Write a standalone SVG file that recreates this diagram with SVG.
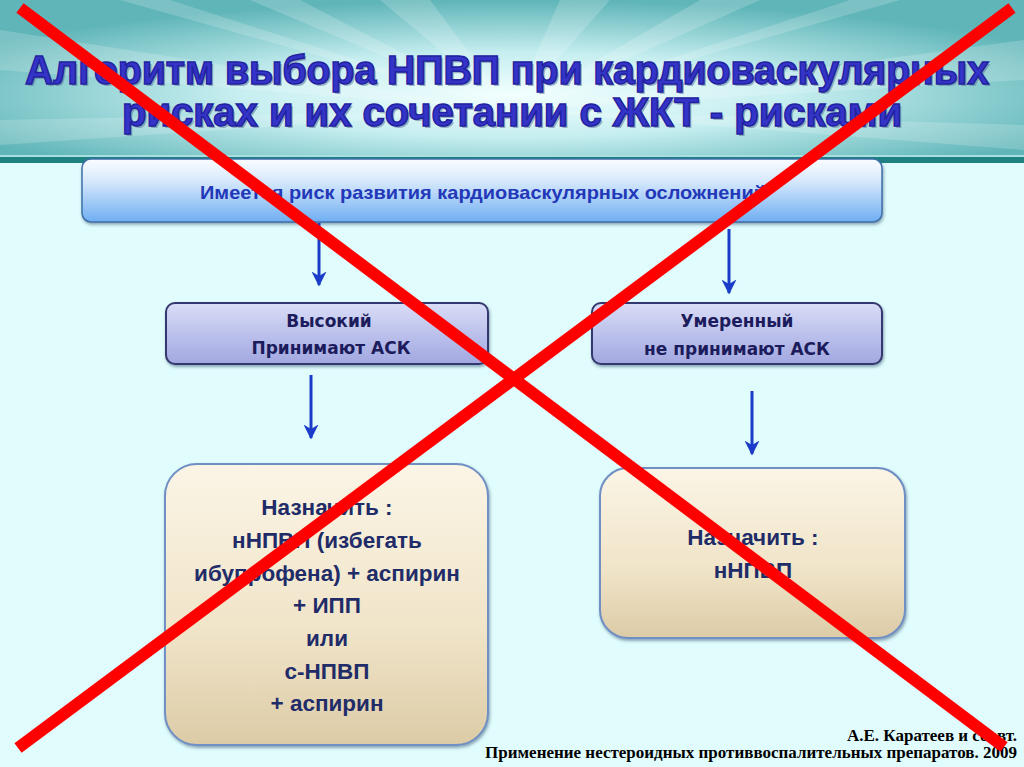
<svg xmlns="http://www.w3.org/2000/svg" width="1024" height="767" viewBox="0 0 1024 767">
  <defs>
    <radialGradient id="hdr" cx="0.5" cy="0.6" r="0.6" fx="0.5" fy="0.6">
      <stop offset="0" stop-color="#F2FFFF"/>
      <stop offset="0.45" stop-color="#C6EEF0"/>
      <stop offset="1" stop-color="#5FB5B8"/>
    </radialGradient>
    <linearGradient id="topbox" x1="0" y1="0" x2="0" y2="1">
      <stop offset="0" stop-color="#FBFDFF"/>
      <stop offset="0.35" stop-color="#D6E8FC"/>
      <stop offset="1" stop-color="#6FAEF2"/>
    </linearGradient>
    <linearGradient id="midbox" x1="0" y1="0" x2="0" y2="1">
      <stop offset="0" stop-color="#DADDF6"/>
      <stop offset="0.5" stop-color="#BCC1EC"/>
      <stop offset="1" stop-color="#A2A8E0"/>
    </linearGradient>
    <linearGradient id="botbox" x1="0" y1="0" x2="0" y2="1">
      <stop offset="0" stop-color="#FBF5E6"/>
      <stop offset="0.6" stop-color="#F0E4C8"/>
      <stop offset="1" stop-color="#DCCBA6"/>
    </linearGradient>
    <marker id="arr" viewBox="0 0 10 10" refX="9" refY="5" markerWidth="5" markerHeight="5" orient="auto">
      <path d="M0,0 L10,5 L0,10 L3,5 z" fill="#1A3CC8"/>
    </marker>
    <filter id="sh" x="-5%" y="-5%" width="110%" height="115%">
      <feDropShadow dx="1" dy="2" stdDeviation="1.5" flood-color="#305070" flood-opacity="0.5"/>
    </filter>
  </defs>
  <style>
    .title { font-family: "Liberation Sans", Arial, sans-serif; font-weight: bold; font-size: 40px; fill: #3434C8; stroke: #2222A0; stroke-width: 1.5; text-anchor: middle; }
    .tshadow { font-family: "Liberation Sans", Arial, sans-serif; font-weight: bold; font-size: 40px; fill: #5A6E90; opacity: 0.5; text-anchor: middle; }
    .t1 { font-family: "Liberation Sans", Arial, sans-serif; font-weight: bold; font-size: 19px; fill: #2238B8; text-anchor: middle; }
    .t2 { font-family: "DejaVu Sans", "Liberation Sans", sans-serif; font-weight: bold; font-size: 17px; fill: #1C1C5C; text-anchor: middle; }
    .t3 { font-family: "Liberation Sans", Arial, sans-serif; font-weight: bold; font-size: 22.5px; fill: #1F2C68; text-anchor: middle; }
    .cite { font-family: "Liberation Serif", "Times New Roman", serif; font-weight: bold; font-size: 17px; fill: #000; text-anchor: end; }
    .conn { stroke: #1A3CC8; stroke-width: 3; fill: none; marker-end: url(#arr); }
    .cross { stroke: #FF0000; stroke-width: 12; stroke-linecap: butt; }
  </style>

  <!-- background -->
  <rect x="0" y="0" width="1024" height="767" fill="#E0FCFC"/>

  <!-- header band -->
  <g id="header">
    <rect x="0" y="0" width="1024" height="158" fill="url(#hdr)"/>
    <g fill="#FFFFFF" opacity="0.18">
      <polygon points="512,110 380,0 430,0"/>
      <polygon points="512,110 560,0 610,0"/>
      <polygon points="512,110 250,0 300,0"/>
      <polygon points="512,110 700,0 760,0"/>
      <polygon points="512,110 0,30 0,70"/>
      <polygon points="512,110 1024,40 1024,80"/>
      <polygon points="512,110 120,0 170,0"/>
      <polygon points="512,110 850,0 900,0"/>
      <polygon points="512,110 0,120 0,145"/>
      <polygon points="512,110 1024,125 1024,150"/>
    </g>
    <rect x="0" y="155" width="1024" height="2" fill="#A8DEE0"/>
    <rect x="0" y="157" width="1024" height="6" fill="#1E8282"/>
    <text class="tshadow" x="509" y="86" textLength="964" lengthAdjust="spacingAndGlyphs">Алгоритм выбора НПВП при кардиоваскулярных</text>
    <text class="title" x="507" y="84" textLength="964" lengthAdjust="spacingAndGlyphs">Алгоритм выбора НПВП при кардиоваскулярных</text>
    <text class="tshadow" x="514" y="128" textLength="780" lengthAdjust="spacingAndGlyphs">рисках и их сочетании с ЖКТ - рисками</text>
    <text class="title" x="512" y="126" textLength="780" lengthAdjust="spacingAndGlyphs">рисках и их сочетании с ЖКТ - рисками</text>
  </g>

  <!-- top node -->
  <g id="node-risk">
    <rect x="82" y="159" width="800" height="63" rx="9" fill="url(#topbox)" stroke="#3F6FA8" stroke-width="1.5" filter="url(#sh)"/>
    <text class="t1" x="483" y="199" textLength="566" lengthAdjust="spacingAndGlyphs">Имеется риск развития кардиоваскулярных осложнений</text>
  </g>

  <!-- middle nodes -->
  <g id="node-high">
    <rect x="166" y="303" width="322" height="61" rx="9" fill="url(#midbox)" stroke="#34386E" stroke-width="2" filter="url(#sh)"/>
    <text class="t2" x="329" y="327">Высокий</text>
    <text class="t2" x="331" y="354">Принимают АСК</text>
  </g>
  <g id="node-moderate">
    <rect x="592" y="303" width="290" height="61" rx="9" fill="url(#midbox)" stroke="#34386E" stroke-width="2" filter="url(#sh)"/>
    <text class="t2" x="737" y="327">Умеренный</text>
    <text class="t2" x="737" y="355">не принимают АСК</text>
  </g>

  <!-- bottom nodes -->
  <g id="node-rx-high">
    <rect x="165" y="464" width="323" height="281" rx="32" fill="url(#botbox)" stroke="#6F8FC4" stroke-width="2" filter="url(#sh)"/>
    <text class="t3" x="327" y="515">Назначить :</text>
    <text class="t3" x="327" y="548">нНПВП (избегать</text>
    <text class="t3" x="327" y="581">ибупрофена) + аспирин</text>
    <text class="t3" x="327" y="613">+ ИПП</text>
    <text class="t3" x="327" y="646">или</text>
    <text class="t3" x="327" y="679">с-НПВП</text>
    <text class="t3" x="327" y="711">+ аспирин</text>
  </g>
  <g id="node-rx-moderate">
    <rect x="600" y="468" width="305" height="170" rx="28" fill="url(#botbox)" stroke="#6F8FC4" stroke-width="2" filter="url(#sh)"/>
    <text class="t3" x="753" y="545">Назначить :</text>
    <text class="t3" x="753" y="578">нНПВП</text>
  </g>

  <!-- connectors -->
  <g id="connectors">
    <line class="conn" x1="319" y1="223" x2="319" y2="285"/>
    <line class="conn" x1="729" y1="229" x2="729" y2="293"/>
    <line class="conn" x1="311" y1="375" x2="311" y2="438"/>
    <line class="conn" x1="752" y1="391" x2="752" y2="454"/>
  </g>

  <!-- citation -->
  <g id="citation">
    <text class="cite" x="1017" y="741">А.Е. Каратеев и соавт.</text>
    <text class="cite" x="1017" y="758">Применение нестероидных противвоспалительных препаратов. 2009</text>
  </g>

  <!-- red cross -->
  <g id="cross">
    <line class="cross" x1="20" y1="8" x2="1004" y2="747"/>
    <line class="cross" x1="1012" y1="8" x2="18" y2="748"/>
  </g>
</svg>
